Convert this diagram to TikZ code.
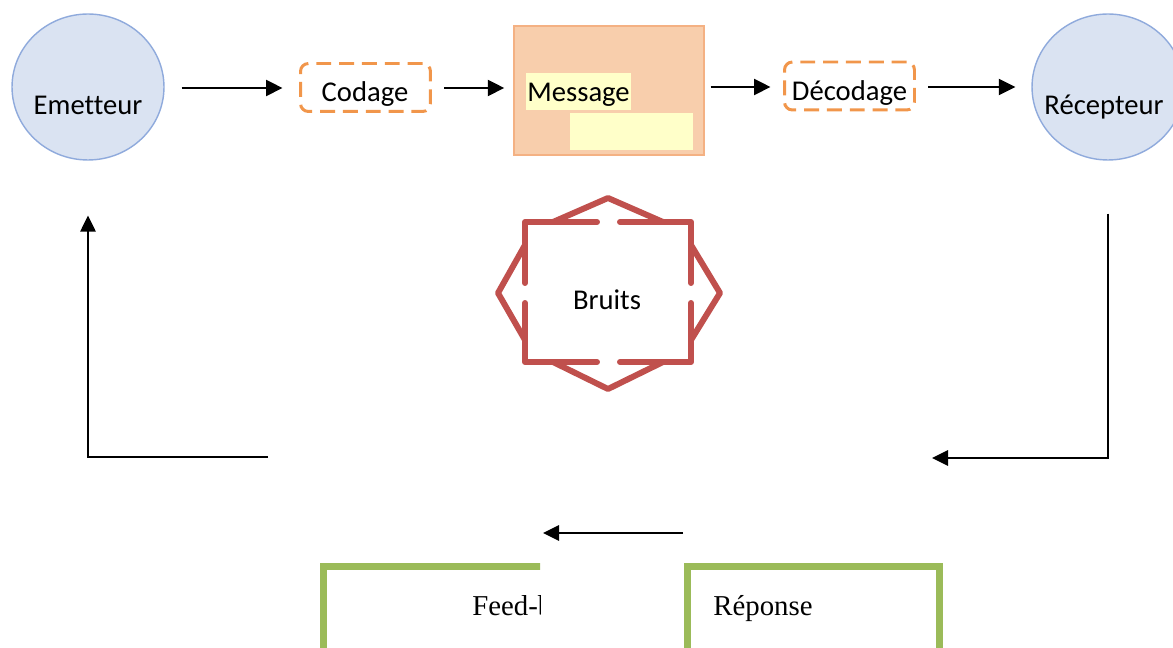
\documentclass[tikz,border=0pt]{standalone}
\usepackage{fontspec}
\setmainfont[Ligatures=NoCommon]{Carlito}
\newfontfamily\serifface{Liberation Serif}
\usetikzlibrary{arrows.meta,shapes.geometric}

\definecolor{nodeblue}{RGB}{218,227,242}
\definecolor{nodeblueline}{RGB}{143,170,220}
\definecolor{dashorange}{RGB}{241,150,75}
\definecolor{msgfill}{RGB}{248,206,172}
\definecolor{msgline}{RGB}{244,177,131}
\definecolor{hilite}{RGB}{255,255,201}
\definecolor{noisered}{RGB}{192,80,77}
\definecolor{fbgreen}{RGB}{155,187,89}

\begin{document}
\begin{tikzpicture}[x=0.02cm,y=-0.02cm,
  lbl/.style={font=\fontsize{16.3}{19}\selectfont, inner sep=0pt, anchor=base},
  serlbl/.style={font=\serifface\fontsize{16.4}{19}\selectfont, inner sep=0pt, anchor=base west},
  party/.style={ellipse, draw=nodeblueline, fill=nodeblue, line width=0.8pt,
    minimum width=3.04cm, minimum height=2.92cm, inner sep=0pt},
  codebox/.style={draw=dashorange, line width=1.7pt, dash pattern=on 8.5pt off 4.5pt,
    rounded corners=4.5pt, minimum width=2.6cm, minimum height=0.96cm, inner sep=0pt},
  msgbox/.style={draw=msgline, fill=msgfill, line width=0.85pt,
    minimum width=3.8cm, minimum height=2.58cm, inner sep=0pt},
  arr/.style={-{Triangle[length=0.33cm,width=0.32cm]}, line width=1.1pt},
  loop/.style={-{Triangle[length=0.32cm,width=0.31cm]}, line width=0.9pt},
  noise/.style={draw=noisered, line width=3.4pt, line cap=round, line join=round},
  fbbox/.style={draw=fbgreen, line width=4pt, inner sep=0pt, outer sep=0pt, anchor=north west}
]
\useasboundingbox (0,0) rectangle (1173,648);

% sender and receiver
\node[party] (em) at (88,87) {};
\node[lbl] (emt) at (88,115) {Emetteur};
\node[party] (rec) at (1108,87) {};
\node[lbl] (rect) at (1104,115) {Récepteur};

% coding / decoding
\node[codebox] (cod) at (365.5,87.5) {};
\node[lbl] (codt) at (365,102) {Codage};
\node[codebox] (dec) at (849.5,86) {};
\node[lbl] (dect) at (849.5,101) {Décodage};

% message block with highlighted text
\node[msgbox] (msg) at (609,90.5) {};
\fill[hilite] (570,113) rectangle (693,150);
\fill[hilite] (526,73) rectangle (631,110);
\node[lbl, anchor=base west] (msgt) at (527,102) {Message};

% forward chain
\draw[arr, shorten <=0.34cm, shorten >=0.33cm] (em.east |- 0,88) -- (cod.west |- 0,88);
\draw[arr, shorten <=0.25cm, shorten >=0.18cm] (cod.east |- 0,88) -- (msg.west |- 0,88);
\draw[arr, shorten <=0.12cm, shorten >=0.25cm] (msg.east |- 0,87) -- (dec.west |- 0,87);
\draw[arr, shorten <=0.25cm, shorten >=0.32cm] (dec.east |- 0,87) -- (rec.west |- 0,87);

% noise
\node[lbl] (bru) at (607,310) {Bruits};
\path[noise] (597,222) -- (525,222) -- (525,283);
\path[noise] (620,222) -- (691,222) -- (691,283);
\path[noise] (525,303) -- (525,362) -- (597,362);
\path[noise] (691,303) -- (691,362) -- (620,362);
\path[noise] (553,222) -- (608,198) -- (663,222);
\path[noise] (525,245) -- (498,293) -- (525,340);
\path[noise] (691,245) -- (720,293) -- (691,340);
\path[noise] (553,362) -- (608,389) -- (663,362);

% feedback loop
\coordinate (fbR) at (932,458);
\coordinate (fbL) at (268,457);
\draw[loop, shorten <=1.06cm] (rec.south) |- (fbR);
\draw[loop, shorten >=1.1cm] (fbL) -| (em.south);
\coordinate (rs) at (683,533);
\coordinate (re) at (543,533);
\draw[loop] (rs) -- (re);

% response boxes
\begin{scope}
  \clip (300,540) rectangle (540,660);
  \node[fbbox, minimum width=5.9cm, minimum height=2.8cm] (fb) at (323.5,566.5) {};
  \node[serlbl] (fbt) at (472,615) {Feed-back};
\end{scope}
\node[fbbox, minimum width=5.04cm, minimum height=2.8cm] (rep) at (687.5,566.5) {};
\node[serlbl] (rept) at (713,615) {Réponse};
\end{tikzpicture}
\end{document}
